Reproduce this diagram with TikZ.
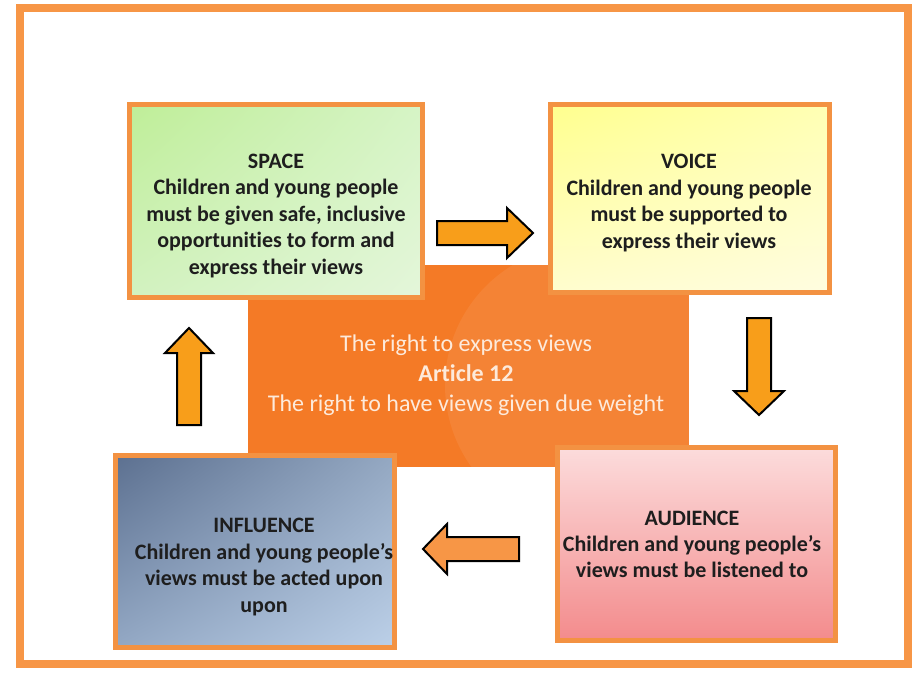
\documentclass[tikz,border=0pt]{standalone}
\usepackage{fontspec}
\setmainfont{Carlito}[Ligatures={NoCommon}]
\usetikzlibrary{shadings}
\definecolor{frameor}{HTML}{F79646}
\definecolor{boxor}{HTML}{F39242}
\definecolor{centeror}{HTML}{F47A26}
\definecolor{arrowor}{HTML}{F89E1A}
\definecolor{arrowlt}{HTML}{F79646}
\definecolor{txt}{HTML}{1E1E1E}
\definecolor{ctxt}{HTML}{FDEADB}
\definecolor{grUL}{HTML}{BFEE98}
\definecolor{grUR}{HTML}{D6F4C6}
\definecolor{grLL}{HTML}{D2F2C0}
\definecolor{grLR}{HTML}{E4F6DA}
\definecolor{yeUL}{HTML}{FFFF8E}
\definecolor{yeUR}{HTML}{FFFFB4}
\definecolor{yeLL}{HTML}{FFFDCE}
\definecolor{yeLR}{HTML}{FFFDE0}
\definecolor{piT}{HTML}{FCDCDC}
\definecolor{piB}{HTML}{F38B8C}
\definecolor{blUL}{HTML}{5C7090}
\definecolor{blUR}{HTML}{94A8C2}
\definecolor{blLL}{HTML}{93A8C4}
\definecolor{blLR}{HTML}{BCD0E8}
\begin{document}
\begin{tikzpicture}[x=1pt,y=-1pt,
  panel/.style={draw=boxor, line width=5pt, rectangle, inner sep=0pt},
  blockarrow/.style={draw=black, line width=2pt, line join=miter},
  boxtext/.style={align=center, text=txt, inner sep=0pt,
     font=\fontsize{22}{26.5}\selectfont\bfseries}]
\useasboundingbox (0,0) rectangle (912,674);
\fill[white] (0,0) rectangle (912,674);
% outer frame
\draw[frameor, line width=8pt] (20,8) rectangle (908,664);
% central rectangle
\node[fill=centeror, minimum width=441pt, minimum height=202pt, inner sep=0pt] (core) at (468.5,366) {};
\begin{scope}
  \clip (core.south west) rectangle (core.north east);
  \fill[white, opacity=0.07] (585,385) circle (140);
\end{scope}
% four panels
\node[panel, minimum width=293pt, minimum height=193pt,
      upper left=grUL, upper right=grUR, lower left=grLL, lower right=grLR] (spacebox) at (276,201) {};
\node[panel, minimum width=279pt, minimum height=188pt,
      upper left=yeUL, upper right=yeUR, lower left=yeLL, lower right=yeLR] (voicebox) at (690,198.5) {};
\node[panel, minimum width=278pt, minimum height=193pt,
      top color=piT, bottom color=piB] (audbox) at (696.5,544) {};
\node[panel, minimum width=279pt, minimum height=192pt,
      upper left=blUL, upper right=blUR, lower left=blLL, lower right=blLR] (inflbox) at (255,551.5) {};
% panel texts
\node[boxtext] (spacetxt) at (276,216)
  {SPACE\\Children and young people\\must be given safe, inclusive\\opportunities to form and\\express their views};
\node[boxtext] (voicetxt) at (689,203)
  {VOICE\\Children and young people\\must be supported to\\express their views};
\node[boxtext, font=\fontsize{22}{26}\selectfont\bfseries] (audtxt) at (692,544)
  {AUDIENCE\\Children and young people’s\\views must be listened to};
\node[boxtext, font=\fontsize{22}{26.7}\selectfont\bfseries] (infltxt) at (264,567)
  {INFLUENCE\\Children and young people’s\\views must be acted upon\\upon};
% central text
\node[align=center, text=ctxt, inner sep=0pt, font=\fontsize{24}{30}\selectfont] (coretxt) at (466,375)
  {The right to express views\\\textbf{Article 12}\\The right to have views given due weight};
% block arrows
\draw[blockarrow, fill=arrowor] (437,221) -- (507,221) -- (507,208) -- (533,233)
  -- (507,258) -- (507,245) -- (437,245) -- cycle;
\draw[blockarrow, fill=arrowor] (747,318) -- (771,318) -- (771,391) -- (784,391)
  -- (759,415) -- (734,391) -- (747,391) -- cycle;
\draw[blockarrow, fill=arrowlt] (519,537) -- (447,537) -- (447,524) -- (423,549)
  -- (447,574) -- (447,561) -- (519,561) -- cycle;
\draw[blockarrow, fill=arrowor] (177,425) -- (177,353) -- (165,353) -- (189,328)
  -- (213,353) -- (201,353) -- (201,425) -- cycle;
\end{tikzpicture}
\end{document}
